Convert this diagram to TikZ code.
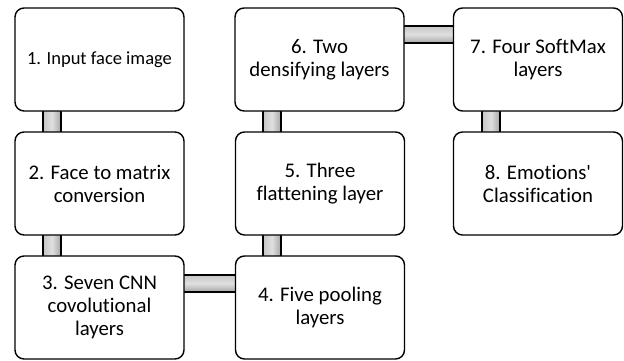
\documentclass[tikz,border=0pt]{standalone}
\usepackage{fontspec}
\setmainfont[Ligatures={NoCommon,TeXOff}]{Carlito}
\begin{document}
\begin{tikzpicture}[x=1pt,y=-1pt,
  stepbox/.style={draw=black, line width=1.4pt, rounded corners=9pt, fill=white,
    minimum width=169pt, minimum height=103pt, align=center, inner sep=2pt,
    font=\fontsize{20.8}{23}\selectfont},
  vbar/.style={draw=black, line width=1.2pt, left color=gray!45, right color=gray!70, middle color=gray!25},
  hbar/.style={draw=black, line width=1.2pt, top color=gray!45, bottom color=gray!70, middle color=gray!25}]
\useasboundingbox (0,0) rectangle (624,360);
% connectors (drawn first, behind boxes)
\coordinate (c12a) at (43,110); \coordinate (c12b) at (61,133);
\coordinate (c23a) at (43,234); \coordinate (c23b) at (61,258);
\coordinate (c34a) at (183,275); \coordinate (c34b) at (237,292);
\coordinate (c45a) at (263,234); \coordinate (c45b) at (281,258);
\coordinate (c56a) at (263,110); \coordinate (c56b) at (281,133);
\coordinate (c67a) at (403,26); \coordinate (c67b) at (455,43);
\coordinate (c78a) at (482,110); \coordinate (c78b) at (500,133);
\draw[vbar] (c12a) rectangle (c12b);
\draw[vbar] (c23a) rectangle (c23b);
\draw[hbar] (c34a) rectangle (c34b);
\draw[vbar] (c45a) rectangle (c45b);
\draw[vbar] (c56a) rectangle (c56b);
\draw[hbar] (c67a) rectangle (c67b);
\draw[vbar] (c78a) rectangle (c78b);
% boxes
\node[stepbox, font=\fontsize{18.5}{22}\selectfont] (b1) at (99.5,59.5) {1. Input face image};
\node[stepbox] (b2) at (99.5,183.5) {2. Face to matrix\\conversion};
\node[stepbox] (b3) at (99.5,307.5) {3. Seven CNN\\covolutional\\layers};
\node[stepbox] (b4) at (320,307.5) {4. Five pooling\\layers};
\node[stepbox] (b5) at (320,183.5) {5. Three\\flattening layer};
\node[stepbox] (b6) at (319.5,59.5) {6. Two\\densifying layers};
\node[stepbox] (b7) at (538,59.5) {7. Four SoftMax\\layers};
\node[stepbox] (b8) at (538,183.5) {8. Emotions'\\Classification};
\end{tikzpicture}
\end{document}
